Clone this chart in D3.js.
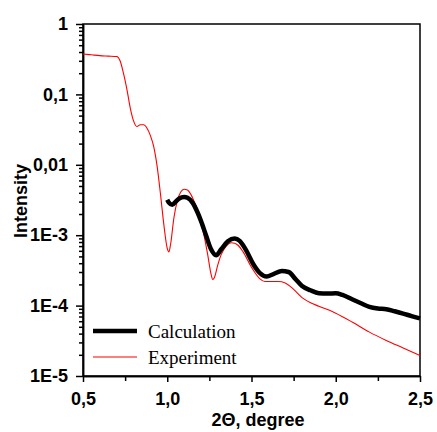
<!DOCTYPE html>
<html>
<head>
<meta charset="utf-8">
<script src="https://cdn.jsdelivr.net/npm/d3@7"></script>
<style>
  body { margin: 0; background: #fff; }
  svg { display: block; }
  .tick text { font-family: "Liberation Sans", Arial, sans-serif; font-weight: bold; font-size: 18px; fill: #000; }
  .axis path, .axis line { stroke: #000; stroke-width: 1.5; }
</style>
</head>
<body>
<script>
"use strict";

// experiment curve (red)
let expX = [0.50, 0.55, 0.60, 0.65, 0.70, 0.72, 0.74, 0.76, 0.78, 0.80, 0.82, 0.84, 0.86, 0.88, 0.90,
    0.92, 0.94, 0.96, 0.98, 1.00, 1.01, 1.02, 1.04, 1.06, 1.08, 1.10, 1.12, 1.14, 1.16, 1.18, 1.20,
    1.22, 1.24, 1.26, 1.27, 1.28, 1.30, 1.32, 1.35, 1.38, 1.40, 1.42, 1.45, 1.50, 1.55, 1.58, 1.62,
    1.66, 1.70, 1.75, 1.80, 1.85, 1.90, 2.00, 2.10, 2.20, 2.30, 2.40, 2.50];
let expY = [0.375, 0.365, 0.355, 0.350, 0.345, 0.30, 0.20, 0.12, 0.065, 0.042, 0.035, 0.037, 0.037, 0.033, 0.026,
    0.018, 0.0095, 0.0038, 0.0014, 0.00065, 0.00058, 0.00075, 0.0018, 0.0031, 0.0041, 0.0045, 0.0044, 0.0038, 0.0030, 0.0022, 0.0015,
    0.00095, 0.00053, 0.00028, 0.000235, 0.00025, 0.00038, 0.00053, 0.00070, 0.00078, 0.00077, 0.00072, 0.00058, 0.00035, 0.00024, 0.00022, 0.00022,
    0.00022, 0.00021, 0.00017, 0.00013, 0.00011, 0.000098, 0.000078, 0.000058, 0.000042, 0.000032, 0.000025, 0.0000195];

// calculation curve (black)
let calcX = [1.00, 1.01, 1.03, 1.05, 1.07, 1.10, 1.12, 1.15, 1.18, 1.20, 1.23, 1.26, 1.29, 1.32, 1.36,
    1.40, 1.43, 1.47, 1.51, 1.55, 1.59, 1.63, 1.68, 1.72, 1.76, 1.80, 1.85, 1.90, 1.95, 2.00,
    2.04, 2.10, 2.15, 2.20, 2.25, 2.30, 2.35, 2.40, 2.45, 2.50];
let calcY = [0.0032, 0.0029, 0.0027, 0.0030, 0.0033, 0.0035, 0.0034, 0.0029, 0.0021, 0.0016, 0.0010, 0.00063, 0.00052, 0.00063, 0.00082,
    0.00090, 0.00083, 0.00060, 0.00039, 0.00029, 0.00026, 0.00028, 0.00031, 0.00030, 0.00024, 0.00019, 0.000165, 0.00015, 0.000148, 0.000150,
    0.000142, 0.000122, 0.000108, 0.000096, 0.000091, 0.000089, 0.000083, 0.000077, 0.000071, 0.000066];

let xTicks = [0.5, 1.0, 1.5, 2.0, 2.5];
let xTickLabels = ['0,5', '1,0', '1,5', '2,0', '2,5'];
let xMinorTicks = [0.75, 1.25, 1.75, 2.25];
let yTicks = [1, 0.1, 0.01, 1e-3, 1e-4, 1e-5];
let yTickLabels = ['1', '0,1', '0,01', '1E-3', '1E-4', '1E-5'];

(function() {

let width = 437;
let height = 432;
let left = 83, right = 420, top = 24, bottom = 376;

let svg = d3.select('body')
    .append('svg')
    .attr('width', width)
    .attr('height', height);

let x = d3.scaleLinear().domain([0.5, 2.5]).range([left, right]);
let y = d3.scaleLog().domain([1e-5, 1]).range([bottom, top]);

// minor log ticks 2..9 per decade
let yMinor = [];
for (let e = -5; e < 0; e++) {
    for (let m = 2; m <= 9; m++) yMinor.push(m * Math.pow(10, e));
}

// frame
svg.append('rect')
    .attr('x', left).attr('y', top)
    .attr('width', right - left).attr('height', bottom - top)
    .attr('fill', 'none').attr('stroke', '#000').attr('stroke-width', 1.5);

svg.append('g')
    .attr('class', 'axis')
    .attr('transform', 'translate(0,' + bottom + ')')
    .call(d3.axisBottom(x).tickValues(xMinorTicks).tickSize(5).tickSizeOuter(0).tickFormat(''));

svg.append('g')
    .attr('class', 'axis')
    .attr('transform', 'translate(0,' + bottom + ')')
    .call(d3.axisBottom(x).tickValues(xTicks).tickSize(6).tickSizeOuter(0).tickPadding(10)
        .tickFormat(function(d, i) { return xTickLabels[i]; }));

svg.append('g')
    .attr('class', 'axis')
    .attr('transform', 'translate(' + left + ',0)')
    .call(d3.axisLeft(y).tickValues(yMinor).tickSize(4).tickSizeOuter(0).tickFormat(''));

svg.append('g')
    .attr('class', 'axis')
    .attr('transform', 'translate(' + left + ',0)')
    .call(d3.axisLeft(y).tickValues(yTicks).tickSize(7).tickSizeOuter(0).tickPadding(8)
        .tickFormat(function(d, i) { return yTickLabels[i]; }));

let line = d3.line()
    .x(function(d) { return x(d[0]); })
    .y(function(d) { return y(d[1]); })
    .curve(d3.curveMonotoneX);

let plot = svg.append('g');

plot.append('path')
    .datum(d3.zip(expX, expY))
    .attr('d', line)
    .attr('fill', 'none')
    .attr('stroke', '#ff0000')
    .attr('stroke-width', 1.1);

plot.append('path')
    .datum(d3.zip(calcX, calcY))
    .attr('d', line)
    .attr('fill', 'none')
    .attr('stroke', '#000')
    .attr('stroke-width', 4.5)
    .attr('stroke-linejoin', 'round');

// legend
let legend = [
    { name: 'Calculation', color: '#000', w: 4.5, y: 331 },
    { name: 'Experiment', color: '#ff0000', w: 1.1, y: 357 }
];
let lg = svg.selectAll('.legend')
    .data(legend)
    .enter()
    .append('g')
    .attr('class', 'legend');
lg.append('line')
    .attr('x1', 93).attr('x2', 137)
    .attr('y1', function(d) { return d.y; })
    .attr('y2', function(d) { return d.y; })
    .attr('stroke', function(d) { return d.color; })
    .attr('stroke-width', function(d) { return d.w; });
lg.append('text')
    .attr('x', 148)
    .attr('y', function(d) { return d.y + 7; })
    .style('font-family', '"Liberation Serif", "Times New Roman", serif')
    .style('font-size', '19px')
    .text(function(d) { return d.name; });

// axis titles
svg.append('text')
    .attr('x', 258).attr('y', 426)
    .attr('text-anchor', 'middle')
    .style('font-family', '"Liberation Sans", Arial, sans-serif')
    .style('font-weight', 'bold')
    .style('font-size', '18px')
    .text('2\u0398, degree');

svg.append('text')
    .attr('transform', 'translate(27,201) rotate(-90)')
    .attr('text-anchor', 'middle')
    .style('font-family', '"Liberation Sans", Arial, sans-serif')
    .style('font-weight', 'bold')
    .style('font-size', '18px')
    .text('Intensity');

})();
</script>
</body>
</html>
